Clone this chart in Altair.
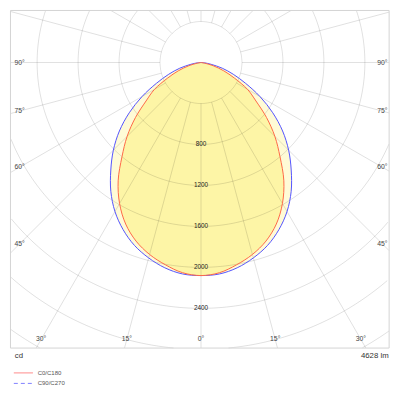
import numpy as np
import pandas as pd
import altair as alt

# ---------------- data ----------------
gamma = [0, 5, 10, 15, 20, 25, 30, 35, 40, 45, 50, 55, 60, 65, 70, 75, 80, 85, 90]
c0_c180 = [2080, 2060, 2005, 1940, 1855, 1740, 1590, 1410, 1200, 1020, 835, 655, 525, 360, 235, 125, 38, 8, 0]
c90_c270 = [2080, 2072, 2035, 1975, 1900, 1800, 1680, 1535, 1370, 1210, 1040, 855, 665, 480, 335, 215, 100, 35, 0]
series_names = ["C0/C180", "C90/C270"]
ring_values = [400, 800, 1200, 1600, 2000, 2400, 2800, 3200, 3600]
ring_labels = [800, 1200, 1600, 2000, 2400]
angle_ticks = [0, 15, 30, 45, 60, 75, 90]
radial_step = 15
unit_text = "cd"
flux_text = "4628 lm"

# ---------------- styles ----------------
line_colors = ["#ff6a48", "#5555ff"]
fill_colors = ["#fdf5a6", "#fffbd6"]
grid_color = "#000000"
grid_opacity = 0.12
FONT = "Liberation Sans"

# ---------------- layout (reference pixels -> cd units) ----------------
K = 42.9 / 400.0          # reference px per cd
CX, CY = 200.0, 55.0      # origin of the diagram in reference px


def X(px):
    return (px - CX) / K


def Y(py):
    return (CY - py) / K


XDOM = [X(0), X(400)]
YDOM = [Y(400), Y(0)]
FL, FR, FT, FB = X(0.5), X(397), Y(0.5), Y(354)
LAB_IN_X = X(390)          # horizontal inset of angle labels
LAB_IN_Y = Y(345)          # vertical inset of angle labels

xs = alt.Scale(domain=XDOM, nice=False, zero=False)
ys = alt.Scale(domain=YDOM, nice=False, zero=False)


def xq(f):
    return alt.X(f, type="quantitative", scale=xs, axis=None)


def yq(f):
    return alt.Y(f, type="quantitative", scale=ys, axis=None)


# ---------------- curves ----------------
def curve_frame(name, vals):
    g = np.radians(np.array(gamma, dtype=float))
    I = np.array(vals, dtype=float)
    rows = []
    n = len(g)
    k = 0
    for j in range(n - 1, -1, -1):
        rows.append({"x": -I[j] * np.sin(g[j]), "y": -I[j] * np.cos(g[j]), "i": k})
        k += 1
    for j in range(1, n):
        rows.append({"x": I[j] * np.sin(g[j]), "y": -I[j] * np.cos(g[j]), "i": k})
        k += 1
    line = pd.DataFrame(rows)
    line["series"] = name
    return line


line_red = curve_frame(series_names[0], c0_c180)
line_blue = curve_frame(series_names[1], c90_c270)


def fill_layer(df, color):
    return alt.Chart(df).mark_line(interpolate="catmull-rom", fill=color, stroke=color, strokeWidth=0.01,
                                   strokeOpacity=0).encode(
        x=xq("x"), y=yq("y"), order=alt.Order("i:Q"))


def line_layer(df, color):
    return alt.Chart(df).mark_line(interpolate="catmull-rom", color=color, strokeWidth=1).encode(
        x=xq("x"), y=yq("y"), order=alt.Order("i:Q"))


# ---------------- grid ----------------
def inside(x, y):
    return (x >= FL) & (x <= FR) & (y <= FT) & (y >= FB)


circ_rows = []
phi = np.radians(np.arange(0, 360.01, 0.5))
seg = 0
for r in ring_values:
    px = r * np.sin(phi)
    py = -r * np.cos(phi)
    m = inside(px, py)
    prev = False
    for j in range(len(phi)):
        if m[j]:
            if not prev:
                seg += 1
            circ_rows.append({"x": px[j], "y": py[j], "seg": seg, "k": j})
        prev = m[j]
circ_df = pd.DataFrame(circ_rows)


def ray_hit(dx, dy, bl, br, bt, bb):
    ts = []
    if dx > 1e-9:
        ts.append(br / dx)
    if dx < -1e-9:
        ts.append(bl / dx)
    if dy > 1e-9:
        ts.append(bt / dy)
    if dy < -1e-9:
        ts.append(bb / dy)
    return min(ts)


ray_rows = []
for a in range(0, 360, radial_step):
    ar = np.radians(a)
    dx, dy = np.sin(ar), -np.cos(ar)
    t = ray_hit(dx, dy, FL, FR, FT, FB)
    r0 = ring_values[0]
    ray_rows.append({"x": r0 * dx, "y": r0 * dy, "x2": t * dx, "y2": t * dy})
ray_df = pd.DataFrame(ray_rows)

circles = alt.Chart(circ_df).mark_line(color=grid_color, opacity=grid_opacity, strokeWidth=1).encode(
    x=xq("x"), y=yq("y"), detail="seg:N", order=alt.Order("k:Q"))
rays = alt.Chart(ray_df).mark_rule(color=grid_color, opacity=grid_opacity, strokeWidth=1).encode(
    x=xq("x"), y=yq("y"), x2="x2", y2="y2")

frame_df = pd.DataFrame([{"x": FL, "x2": FR, "y": FT, "y2": FB}])
frame = alt.Chart(frame_df).mark_rect(fillOpacity=0, stroke="#d4d4d4", strokeWidth=1).encode(
    x=xq("x"), x2="x2", y=yq("y"), y2="y2")

# ---------------- labels ----------------
ring_df = pd.DataFrame({"x": [0.0] * len(ring_labels), "y": [-float(v) for v in ring_labels],
                        "t": [str(v) for v in ring_labels]})
ring_text = alt.Chart(ring_df).mark_text(fontSize=6.4, font=FONT, color="#222222", baseline="middle",
                                         align="center").encode(x=xq("x"), y=yq("y"), text="t:N")

ang_rows = []
for a in angle_ticks:
    for s in ([1] if a == 0 else [-1, 1]):
        ar = np.radians(a)
        dx, dy = s * np.sin(ar), -np.cos(ar)
        t = ray_hit(dx, dy, -LAB_IN_X, LAB_IN_X, 1e9, LAB_IN_Y)
        ang_rows.append({"x": t * dx, "y": t * dy, "t": f"{a}°"})
ang_df = pd.DataFrame(ang_rows)
ang_text = alt.Chart(ang_df).mark_text(fontSize=6.8, font=FONT, color="#444444", baseline="middle",
                                       align="center").encode(x=xq("x"), y=yq("y"), text="t:N")

foot_df = pd.DataFrame([{"x": X(5), "y": Y(362), "t": unit_text}])
foot_l = alt.Chart(foot_df).mark_text(fontSize=7.8, font=FONT, color="#333333", baseline="middle",
                                      align="left").encode(x=xq("x"), y=yq("y"), text="t:N")
foot_df2 = pd.DataFrame([{"x": X(396.5), "y": Y(362), "t": flux_text}])
foot_r = alt.Chart(foot_df2).mark_text(fontSize=7.8, font=FONT, color="#333333", baseline="middle",
                                       align="right").encode(x=xq("x"), y=yq("y"), text="t:N")

leg_df = pd.DataFrame({"series": series_names,
                       "x": [X(4), X(4)], "x2": [X(24), X(24)],
                       "y": [Y(380), Y(391)], "tx": [X(29), X(29)]})
leg_lines = alt.Chart(leg_df).mark_rule(strokeWidth=1).encode(
    x=xq("x"), x2="x2", y=yq("y"),
    color=alt.Color("series:N", scale=alt.Scale(domain=series_names, range=["#ff8080", "#8080ff"]), legend=None),
    strokeDash=alt.StrokeDash("series:N", scale=alt.Scale(domain=series_names, range=[[1, 0], [4, 3]]), legend=None))
leg_text = alt.Chart(leg_df).mark_text(fontSize=6.0, font=FONT, color="#555555", baseline="middle",
                                       align="left").encode(x=xq("tx"), y=yq("y"), text="series:N")

chart = alt.layer(
    fill_layer(line_blue, fill_colors[1]),
    fill_layer(line_red, fill_colors[0]),
    circles, rays, frame,
    line_layer(line_blue, line_colors[1]),
    line_layer(line_red, line_colors[0]),
    ring_text, ang_text, foot_l, foot_r, leg_lines, leg_text,
).properties(
    width=384, height=384, padding=0,
    autosize=alt.AutoSizeParams(type="fit", contains="padding"),
).configure_view(stroke=None)

chart.save("out.html", embed_options={"renderer": "svg", "actions": False})
